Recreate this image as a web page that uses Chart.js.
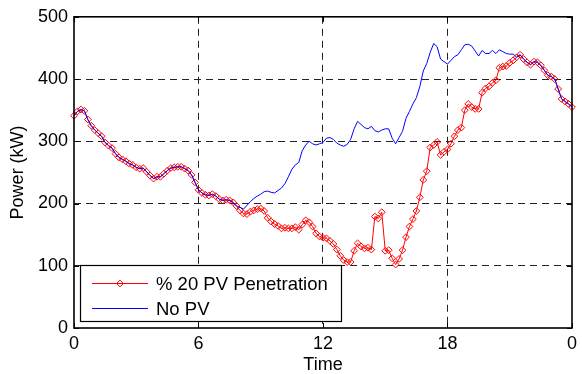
<!DOCTYPE html>
<html>
<head>
<meta charset="utf-8">
<script src="https://cdn.jsdelivr.net/npm/chart.js@4.4.1/dist/chart.umd.min.js"></script>
<style>
  html, body { margin: 0; padding: 0; background: #fff; }
  #wrap { width: 582px; height: 374px; }
</style>
</head>
<body>
<div id="wrap"><canvas id="c" width="582" height="374"></canvas></div>
<script>
// Time of day, one sample every 10 minutes over 24 hours
const times = [
  "00:00","00:10","00:20","00:30","00:40","00:50","01:00","01:10","01:20","01:30","01:40","01:50",
  "02:00","02:10","02:20","02:30","02:40","02:50","03:00","03:10","03:20","03:30","03:40","03:50",
  "04:00","04:10","04:20","04:30","04:40","04:50","05:00","05:10","05:20","05:30","05:40","05:50",
  "06:00","06:10","06:20","06:30","06:40","06:50","07:00","07:10","07:20","07:30","07:40","07:50",
  "08:00","08:10","08:20","08:30","08:40","08:50","09:00","09:10","09:20","09:30","09:40","09:50",
  "10:00","10:10","10:20","10:30","10:40","10:50","11:00","11:10","11:20","11:30","11:40","11:50",
  "12:00","12:10","12:20","12:30","12:40","12:50","13:00","13:10","13:20","13:30","13:40","13:50",
  "14:00","14:10","14:20","14:30","14:40","14:50","15:00","15:10","15:20","15:30","15:40","15:50",
  "16:00","16:10","16:20","16:30","16:40","16:50","17:00","17:10","17:20","17:30","17:40","17:50",
  "18:00","18:10","18:20","18:30","18:40","18:50","19:00","19:10","19:20","19:30","19:40","19:50",
  "20:00","20:10","20:20","20:30","20:40","20:50","21:00","21:10","21:20","21:30","21:40","21:50",
  "22:00","22:10","22:20","22:30","22:40","22:50","23:00","23:10","23:20","23:30","23:40","23:50",
  "24:00"
];

// Feeder power (kW) with 20 % PV penetration
const pv20 = [
  341,348,351,349,335,325,318,313,308,298,
  293,289,280,274,271,268,264,262,258,256,
  257,251,245,240,243,243,248,253,257,258,
  259,259,256,253,246,234,222,217,214,213,
  215,212,207,205,206,205,202,196,189,184,
  183,187,189,191,192,188,177,171,167,164,
  160,161,160,160,162,158,166,173,170,163,
  152,147,145,144,140,135,126,116,109,106,
  106,124,136,131,128,129,126,179,176,186,
  124,125,112,102,111,125,146,163,175,188,
  210,238,252,290,294,299,278,283,287,296,
  308,318,322,350,360,355,352,352,378,385,
  388,394,398,418,420,421,426,430,435,439,
  432,427,423,428,427,422,414,406,404,400,
  384,368,364,360,355
];

// Feeder power (kW) without PV
const noPv = [
  341,348,351,349,335,325,318,313,308,298,
  293,289,280,274,271,268,264,262,258,256,
  257,251,245,240,243,243,248,253,257,258,
  259,259,256,253,246,234,222,217,214,213,
  215,212,207,205,206,205,202,196,194,191,
  197,203,208,212,215,219,220,218,217,221,
  225,232,243,255,262,266,285,294,300,296,
  294,296,298,305,306,303,297,294,292,295,
  303,320,332,327,322,320,324,317,315,318,
  320,320,305,296,306,316,337,348,360,370,
  388,413,425,443,457,452,432,428,424,430,
  436,439,447,455,456,453,445,437,446,441,
  441,446,441,447,444,441,440,440,435,439,
  432,427,423,428,427,422,414,406,404,400,
  384,368,364,360,355
];

const seriesNames = ["% 20 PV Penetration", "No PV"];
const xTickLabels = ["0", "6", "12", "18", "0"];
const xTickEvery = 36;          // samples between labelled hours
const yTicks = [0, 100, 200, 300, 400, 500];

const FONT = "'Liberation Sans', Arial, Helvetica, sans-serif";
const RED = "#ff0000";
const BLUE = "#0000ff";

// Boxed axes, inward ticks and an in-plot legend
const boxPlugin = {
  id: "boxAxes",
  afterDatasetsDraw(chart) {
    const { ctx, chartArea: a, scales } = chart;
    ctx.save();

    // legend
    const lx = a.left + 6, lw = 261, lh = 56;
    const ly = a.bottom - 7 - lh;
    ctx.fillStyle = "#fff";
    ctx.fillRect(lx, ly, lw, lh);
    ctx.lineWidth = 1.2;
    ctx.strokeStyle = "#000";
    ctx.strokeRect(lx + 0.5, ly + 0.5, lw, lh);

    const rows = [ly + 18.5, ly + 43.5];
    chart.data.datasets.forEach((ds, i) => {
      const yy = rows[i];
      ctx.beginPath();
      ctx.strokeStyle = ds.borderColor;
      ctx.lineWidth = 1;
      ctx.moveTo(lx + 12, yy);
      ctx.lineTo(lx + 68, yy);
      ctx.stroke();
      if (ds.pointRadius > 0) {
        const cx = lx + 40, r = 3.4;
        ctx.beginPath();
        ctx.moveTo(cx, yy - r); ctx.lineTo(cx + r, yy);
        ctx.lineTo(cx, yy + r); ctx.lineTo(cx - r, yy);
        ctx.closePath();
        ctx.stroke();
      }
      ctx.fillStyle = "#000";
      ctx.font = "18.5px " + FONT;
      ctx.textBaseline = "middle";
      ctx.textAlign = "left";
      ctx.fillText(ds.label, lx + 76, yy + 1);
    });

    // frame
    ctx.strokeStyle = "#000";
    ctx.lineWidth = 1.6;
    ctx.strokeRect(a.left, a.top, a.right - a.left, a.bottom - a.top);

    // inward tick marks on all four sides
    ctx.lineWidth = 1;
    const tl = 5;
    scales.x.ticks.forEach(t => {
      const px = Math.round(scales.x.getPixelForValue(t.value)) + 0.5;
      ctx.beginPath();
      ctx.moveTo(px, a.bottom); ctx.lineTo(px, a.bottom - tl);
      ctx.moveTo(px, a.top); ctx.lineTo(px, a.top + tl);
      ctx.stroke();
    });
    scales.y.ticks.forEach(t => {
      const py = Math.round(scales.y.getPixelForValue(t.value)) + 0.5;
      ctx.beginPath();
      ctx.moveTo(a.left, py); ctx.lineTo(a.left + tl, py);
      ctx.moveTo(a.right, py); ctx.lineTo(a.right - tl, py);
      ctx.stroke();
    });
    ctx.restore();
  }
};

const gridColor = "#222";

new Chart(document.getElementById("c"), {
  type: "line",
  data: {
    labels: times,
    datasets: [
      {
        label: seriesNames[0],
        data: pv20,
        borderColor: RED,
        borderWidth: 1,
        pointStyle: "rectRot",
        pointRadius: 3.4,
        pointBorderWidth: 1,
        pointBorderColor: RED,
        pointBackgroundColor: "rgba(255,255,255,0)",
        tension: 0,
        order: 2
      },
      {
        label: seriesNames[1],
        data: noPv,
        borderColor: BLUE,
        borderWidth: 1,
        pointRadius: 0,
        tension: 0,
        order: 1
      }
    ]
  },
  options: {
    responsive: false,
    animation: false,
    devicePixelRatio: 1,
    layout: { padding: { top: 16, right: 6, left: 0, bottom: 0 } },
    plugins: { legend: { display: false }, tooltip: { enabled: false } },
    scales: {
      x: {
        type: "category",
        offset: false,
        afterBuildTicks(scale) {
          scale.ticks = scale.ticks.filter(t => t.value % xTickEvery === 0);
        },
        afterFit(scale) { scale.height = 46; },
        ticks: {
          autoSkip: false,
          maxRotation: 0,
          padding: 5,
          color: "#000",
          font: { family: FONT, size: 18 },
          callback: (v) => xTickLabels[v / xTickEvery]
        },
        grid: {
          drawTicks: false,
          lineWidth: 1,
          color: (c) => (c.tick && c.tick.value > 0 && c.tick.value < times.length - 1) ? gridColor : "rgba(0,0,0,0)"
        },
        border: { display: false, dash: [7, 5] },
        title: {
          display: true,
          text: "Time",
          color: "#000",
          font: { family: FONT, size: 18, lineHeight: 1 },
          padding: { top: 0, bottom: 0 }
        }
      },
      y: {
        min: 0,
        max: 500,
        afterBuildTicks(scale) { scale.ticks = yTicks.map(v => ({ value: v })); },
        afterFit(scale) { scale.width = 74; },
        ticks: {
          padding: 6,
          color: "#000",
          font: { family: FONT, size: 18 }
        },
        grid: {
          drawTicks: false,
          lineWidth: 1,
          color: (c) => (c.tick && c.tick.value > 0 && c.tick.value < 500) ? gridColor : "rgba(0,0,0,0)"
        },
        border: { display: false, dash: [7, 5] },
        title: {
          display: true,
          text: "Power (kW)",
          color: "#000",
          font: { family: FONT, size: 18 },
          padding: { top: 7, bottom: 0 }
        }
      }
    }
  },
  plugins: [boxPlugin]
});
</script>
</body>
</html>
